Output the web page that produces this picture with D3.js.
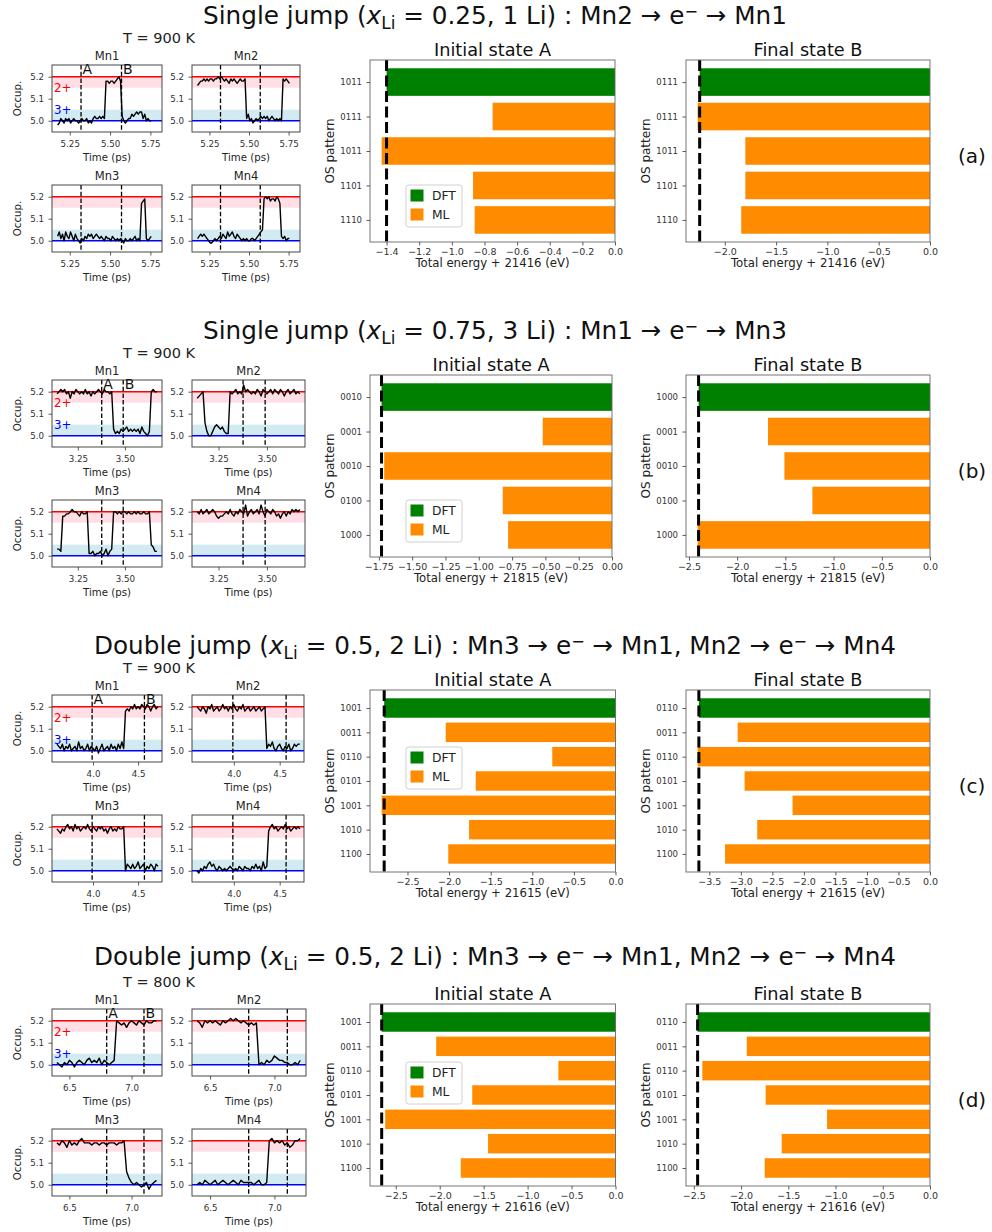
<!DOCTYPE html>
<html>
<head>
<meta charset="utf-8">
<script src="https://cdn.jsdelivr.net/npm/d3@7"></script>
<style>
  body { margin: 0; background: #fff; }
  svg text { font-family: "DejaVu Sans", sans-serif; }
</style>
</head>
<body>
<svg id="fig" width="992" height="1232"></svg>
<script>
// ---- data ----
const jumpKinds = ["Single jump", "Single jump", "Double jump", "Double jump"];
const xLiValues = ["0.25", "0.75", "0.5", "0.5"];
const liCounts = ["1 Li", "3 Li", "2 Li", "2 Li"];
const hopPaths = [
    [["Mn2", "Mn1"]],
    [["Mn1", "Mn3"]],
    [["Mn3", "Mn1"], ["Mn2", "Mn4"]],
    [["Mn3", "Mn1"], ["Mn2", "Mn4"]]
];
const temperatures = ["T = 900 K", "T = 900 K", "T = 900 K", "T = 800 K"];
const panelLabels = ["(a)", "(b)", "(c)", "(d)"];
const siteNames = ["Mn1", "Mn2", "Mn3", "Mn4"];

// time axis of the occupation traces (ps)
const timeStart = [5.175, 3.14, 3.60, 6.40];
const timeStep = [0.01, 0.01, 0.02, 0.02];
const timeDomain = [[5.14, 5.822], [3.113, 3.697], [3.545, 4.765], [6.36, 7.245]];
const timeTicks = [[5.25, 5.5, 5.75], [3.25, 3.5], [4.0, 4.5], [6.5, 7.0]];
const timeTickFormat = [".2f", ".2f", ".1f", ".1f"];
const stateATime = [5.32, 3.377, 3.99, 6.80];
const stateBTime = [5.571, 3.491, 4.57, 7.10];

const occDomain = [4.949, 5.253];
const occTicks = [5.0, 5.1, 5.2];
const level2plus = 5.2, level3plus = 5.0;
const band2plus = [5.15, 5.2], band3plus = [5.0, 5.05];

const occA_Mn1 = [4.98, 4.99, 5.01, 5.00, 4.99, 5.01, 5.00, 5.01, 4.99, 5.00,
    5.01, 5.00, 5.00, 4.99, 5.00, 5.01, 5.00, 5.00, 5.01, 4.99,
    5.00, 4.99, 5.01, 5.02, 5.01, 5.01, 5.02, 5.01, 5.02, 5.01,
    5.18, 5.18, 5.17, 5.18, 5.18, 5.17, 5.18, 5.19, 5.20, 5.18,
    5.02, 5.00, 4.99, 5.00, 5.01, 5.01, 5.03, 5.02, 5.03, 5.04,
    5.03, 5.04, 5.04, 5.01, 5.03, 5.00, 5.01, 5.00, 5.00];
const occA_Mn2 = [5.16, 5.17, 5.18, 5.18, 5.19, 5.18, 5.19, 5.18, 5.19, 5.19,
    5.18, 5.19, 5.19, 5.20, 5.19, 5.20, 5.19, 5.18, 5.19, 5.18,
    5.17, 5.19, 5.18, 5.19, 5.18, 5.17, 5.18, 5.19, 5.18, 5.18, 5.19,
    5.01, 5.03, 5.00, 5.01, 4.99, 5.00, 5.01, 5.00, 5.01, 5.02,
    5.01, 5.02, 5.01, 5.02, 5.00, 5.01, 5.02, 5.01, 5.00, 5.01,
    5.00, 5.01, 5.00,
    5.19, 5.18, 5.19, 5.18, 5.17];
const occA_Mn3 = [5.02, 5.04, 5.01, 5.03, 5.00, 5.04, 5.02, 5.01, 5.04, 5.02,
    5.00, 5.03, 5.01, 5.00, 4.99, 5.01, 5.00, 5.02, 5.01, 5.03,
    5.02, 5.03, 5.01, 5.02, 5.03, 5.02, 5.01, 5.02, 5.01, 5.00,
    5.02, 5.01, 5.01, 5.00, 5.02, 5.01, 5.00, 5.01, 5.00, 5.01,
    5.00, 4.99, 5.01, 5.00, 5.00, 5.01, 5.00, 5.01, 5.02, 5.00,
    5.01, 5.00, 5.17, 5.18, 5.19, 5.01, 5.00, 5.01, 5.02];
const occA_Mn4 = [5.01, 5.02, 5.03, 5.02, 5.03, 5.02, 5.01, 5.00, 4.99, 4.99,
    5.00, 5.01, 5.00, 5.01, 5.02, 5.01, 5.03, 5.02, 5.01, 5.04,
    5.02, 5.03, 5.04, 5.02, 5.01, 5.03, 5.02, 5.01, 5.00, 5.01,
    5.00, 5.01, 5.00, 5.00, 5.01, 5.01, 5.00, 5.01, 5.02, 5.03, 5.04, 5.05,
    5.19, 5.20, 5.19, 5.20, 5.18, 5.19, 5.19, 5.18, 5.20, 5.19, 5.17,
    5.02, 5.01, 5.02, 5.00, 5.01, 5.01];

const occB_Mn1 = [5.19, 5.20, 5.21, 5.20, 5.21, 5.19, 5.20, 5.17, 5.20, 5.19,
    5.21, 5.20, 5.19, 5.20, 5.19, 5.21, 5.19, 5.20, 5.18, 5.20,
    5.19, 5.20, 5.21, 5.20, 5.19, 5.21, 5.20, 5.20, 5.19, 5.20,
    5.03, 5.01, 5.02, 5.01, 5.03, 5.02, 5.03, 5.04, 5.02, 5.03,
    5.02, 5.03, 5.02, 5.03, 5.01, 5.04, 5.02, 5.01, 5.00, 5.02,
    5.20, 5.21, 5.20, 5.20];
const occB_Mn2 = [5.17, 5.18, 5.19, 5.20,
    5.06, 5.02, 5.00, 5.00, 5.02, 5.04, 5.05, 5.04, 5.03, 5.04, 5.02, 5.01, 5.01,
    5.20, 5.19, 5.20, 5.21, 5.19, 5.20, 5.19, 5.23, 5.20, 5.21,
    5.20, 5.19, 5.20, 5.19, 5.21, 5.20, 5.18, 5.21, 5.20, 5.19,
    5.20, 5.21, 5.19, 5.21, 5.20, 5.19, 5.21, 5.20, 5.18, 5.20,
    5.21, 5.19, 5.20, 5.21, 5.19, 5.20, 5.19];
const occB_Mn3 = [5.03, 5.03, 5.02,
    5.18, 5.18, 5.19, 5.19, 5.20, 5.21, 5.20, 5.20, 5.19, 5.18, 5.20, 5.19, 5.19, 5.20,
    5.01, 5.01, 5.02, 5.00, 5.01, 5.01, 5.02, 5.00, 5.01, 5.03, 5.00, 5.02, 5.03,
    5.20, 5.20, 5.19, 5.20, 5.19, 5.20, 5.20, 5.19, 5.20, 5.19,
    5.19, 5.20, 5.19, 5.20, 5.19, 5.19, 5.20, 5.19, 5.19, 5.20,
    5.05, 5.04, 5.02, 5.02];
const occB_Mn4 = [5.20, 5.19, 5.21, 5.19, 5.20, 5.21, 5.19, 5.20, 5.21, 5.20,
    5.18, 5.17, 5.18, 5.18, 5.19, 5.20, 5.19, 5.21, 5.19, 5.18,
    5.20, 5.19, 5.21, 5.20, 5.19, 5.23, 5.18, 5.20, 5.21, 5.19,
    5.20, 5.21, 5.19, 5.23, 5.20, 5.18, 5.21, 5.20, 5.19, 5.21,
    5.20, 5.18, 5.19, 5.17, 5.19, 5.20, 5.18, 5.20, 5.19, 5.21,
    5.20, 5.21, 5.20, 5.21];

const occC_Mn1 = [5.03, 5.02, 5.01, 5.03, 5.00, 5.02, 5.01, 5.03, 5.00, 5.01,
    5.02, 5.00, 5.04, 5.01, 5.02, 5.00, 5.01, 5.03, 5.00, 5.02,
    5.01, 5.00, 5.02, 4.99, 5.01, 5.03, 5.00, 5.01, 5.02, 5.00,
    5.03, 5.01, 5.02, 5.00, 5.03, 5.01, 5.04, 5.01,
    5.18, 5.19, 5.18, 5.20, 5.19, 5.21, 5.19, 5.20, 5.19, 5.21,
    5.20, 5.19, 5.21, 5.20, 5.18, 5.20, 5.21, 5.19, 5.20];
const occC_Mn2 = [5.20, 5.19, 5.18, 5.20, 5.19, 5.17, 5.20, 5.19, 5.21, 5.18,
    5.19, 5.20, 5.18, 5.19, 5.21, 5.19, 5.20, 5.18, 5.20, 5.19,
    5.21, 5.19, 5.18, 5.20, 5.19, 5.21, 5.18, 5.19, 5.20, 5.18,
    5.19, 5.20, 5.18, 5.19, 5.20, 5.18, 5.19, 5.20,
    5.01, 5.03, 5.02, 5.04, 5.01, 5.00, 5.02, 5.03, 5.01, 5.00,
    5.02, 5.01, 5.03, 5.00, 5.01, 5.03, 5.02, 5.03, 5.03];
const occC_Mn3 = [5.19, 5.18, 5.17, 5.19, 5.18, 5.20, 5.21, 5.19, 5.20, 5.18,
    5.21, 5.19, 5.20, 5.18, 5.19, 5.20, 5.19, 5.21, 5.19, 5.18,
    5.20, 5.19, 5.18, 5.20, 5.19, 5.20, 5.18, 5.19, 5.17, 5.19,
    5.20, 5.18, 5.19, 5.18, 5.20, 5.19, 5.19, 5.20,
    5.00, 5.03, 5.02, 5.01, 5.03, 5.01, 5.02, 5.04, 5.01, 5.02,
    5.03, 5.00, 5.02, 5.01, 5.03, 5.02, 5.00, 5.03, 5.02];
const occC_Mn4 = [5.00, 4.99, 5.01, 5.00, 5.02, 5.01, 5.03, 5.04, 5.02, 5.03,
    5.01, 5.00, 5.02, 5.01, 5.00, 5.01, 5.00, 5.01, 5.02, 5.01,
    5.00, 5.01, 5.00, 5.02, 5.01, 5.00, 5.02, 5.01, 5.01, 5.00,
    5.02, 5.01, 5.03, 5.01, 5.02, 5.00, 5.04, 5.01, 5.02,
    5.18, 5.20, 5.21, 5.19, 5.20, 5.18, 5.19, 5.20, 5.19,
    5.21, 5.19, 5.20, 5.18, 5.19, 5.20, 5.19, 5.20, 5.19];

const occD_Mn1 = [5.01, 5.00, 4.99, 5.01, 5.00, 5.02, 5.01, 4.99, 5.01, 5.02,
    5.01, 5.00, 5.02, 5.03, 5.01, 5.02, 5.01, 5.03, 5.00, 5.02,
    5.01, 5.00, 5.01, 5.02,
    5.20, 5.19, 5.18, 5.19, 5.17, 5.19, 5.20, 5.19, 5.18, 5.20,
    5.19, 5.18, 5.20, 5.19, 5.19, 5.20, 5.20];
const occD_Mn2 = [5.20, 5.19, 5.17, 5.20, 5.19, 5.20, 5.19, 5.20, 5.19, 5.18,
    5.20, 5.19, 5.20, 5.21, 5.20, 5.21, 5.20, 5.19, 5.20, 5.19,
    5.18, 5.19, 5.18, 5.19,
    5.00, 5.01, 5.00, 5.02, 5.01, 5.02, 5.04, 5.03, 5.02, 5.02,
    5.01, 5.01, 5.00, 5.00, 5.01, 5.00, 5.02];
const occD_Mn3 = [5.19, 5.18, 5.20, 5.19, 5.17, 5.20, 5.18, 5.19, 5.18, 5.20,
    5.21, 5.19, 5.19, 5.19, 5.18, 5.19, 5.19, 5.18, 5.19, 5.19,
    5.18, 5.19, 5.19, 5.19, 5.18, 5.19, 5.19, 5.20,
    5.06, 5.03, 5.01, 5.00, 5.01, 5.00, 4.99, 5.00, 5.01, 4.98,
    5.00, 5.01, 5.02];
const occD_Mn4 = [5.00, 5.01, 5.00, 5.02, 5.01, 5.00, 5.01, 5.02, 5.00, 5.01,
    5.02, 5.01, 5.00, 5.01, 5.02, 5.01, 5.00, 5.02, 5.01, 5.01,
    5.01, 5.01, 5.00, 5.01, 5.02, 5.00, 5.00, 5.01,
    5.20, 5.21, 5.19, 5.20, 5.19, 5.20, 5.18, 5.19, 5.17, 5.18,
    5.20, 5.20, 5.21];

const occupations = [
    [occA_Mn1, occA_Mn2, occA_Mn3, occA_Mn4],
    [occB_Mn1, occB_Mn2, occB_Mn3, occB_Mn4],
    [occC_Mn1, occC_Mn2, occC_Mn3, occC_Mn4],
    [occD_Mn1, occD_Mn2, occD_Mn3, occD_Mn4]
];

// OS patterns (first entry = DFT) and total energies (eV, shifted)
const patternsInit = [
    ["1011", "0111", "1011", "1101", "1110"],
    ["0010", "0001", "0010", "0100", "1000"],
    ["1001", "0011", "0110", "0101", "1001", "1010", "1100"],
    ["1001", "0011", "0110", "0101", "1001", "1010", "1100"]
];
const patternsFinal = [
    ["0111", "0111", "1011", "1101", "1110"],
    ["1000", "0001", "0010", "0100", "1000"],
    ["0110", "0011", "0110", "0101", "1001", "1010", "1100"],
    ["0110", "0011", "0110", "0101", "1001", "1010", "1100"]
];
const energyInit = [
    [-1.40, -0.75, -1.43, -0.87, -0.86],
    [-1.73, -0.52, -1.71, -0.82, -0.78],
    [-2.78, -2.04, -0.76, -1.68, -2.81, -1.76, -2.01],
    [-2.66, -2.04, -0.65, -1.63, -2.62, -1.45, -1.76]
];
const energyFinal = [
    [-2.245, -2.265, -1.80, -1.80, -1.84],
    [-2.40, -1.68, -1.51, -1.22, -2.41],
    [-3.665, -3.05, -3.685, -2.94, -2.18, -2.74, -3.25],
    [-2.46, -1.94, -2.41, -1.74, -1.09, -1.57, -1.75]
];
const energyOffsets = [21416, 21815, 21615, 21616];
const ticksInit = [
    [-1.4, -1.2, -1.0, -0.8, -0.6, -0.4, -0.2, 0.0],
    [-1.75, -1.5, -1.25, -1.0, -0.75, -0.5, -0.25, 0.0],
    [-2.5, -2.0, -1.5, -1.0, -0.5, 0.0],
    [-2.5, -2.0, -1.5, -1.0, -0.5, 0.0]
];
const ticksFinal = [
    [-2.0, -1.5, -1.0, -0.5, 0.0],
    [-2.5, -2.0, -1.5, -1.0, -0.5, 0.0],
    [-3.5, -3.0, -2.5, -2.0, -1.5, -1.0, -0.5, 0.0],
    [-2.5, -2.0, -1.5, -1.0, -0.5, 0.0]
];
const formatInit = [".1f", ".2f", ".1f", ".1f"];
const formatFinal = [".1f", ".1f", ".1f", ".1f"];
const legendNames = ["DFT", "ML"];

// ---- layout ----
const panelTop = [0, 315, 630, 944];
const titleY = [24, 339, 654, 965];
const occRightWidth = [108, 113, 112, 114];
const initRight = [615, 612, 615.5, 615.5];
const legendTop = [125, 125, 57, 58];
const COLORS = {dft: "#008000", ml: "#ff8c00", text: "#222", tick: "#333"};

const svg = d3.select("#fig");

function styleAxis(sel, size) {
    sel.attr("font-family", null).attr("font-size", null);
    sel.select(".domain").remove();
    sel.selectAll(".tick line").attr("stroke", COLORS.tick).attr("stroke-width", 0.8);
    sel.selectAll(".tick text").attr("fill", COLORS.tick).style("font-size", size + "px");
}

function drawSuptitle(p) {
    const t = svg.append("text")
        .attr("x", 495).attr("y", titleY[p])
        .attr("text-anchor", "middle")
        .style("font-size", "24.7px")
        .style("white-space", "pre")
        .attr("fill", "#111");
    t.append("tspan").text(jumpKinds[p] + " (");
    t.append("tspan").style("font-style", "italic").text("x");
    t.append("tspan").attr("dy", 5).style("font-size", "17px").text("Li");
    t.append("tspan").attr("dy", -5).text(" = " + xLiValues[p] + ", " + liCounts[p] + ") : ");
    hopPaths[p].forEach(function (hop, k) {
        t.append("tspan").text((k ? ", " : "") + hop[0] + " \u2192 e");
        t.append("tspan").attr("dy", -7.5).style("font-size", "16px").text("\u2212");
        t.append("tspan").attr("dy", 7.5).text(" \u2192 " + hop[1]);
    });
}

function drawOccupancy(p, s, box) {
    const g = svg.append("g");
    const x = d3.scaleLinear().domain(timeDomain[p]).range([box.x, box.x + box.w]);
    const y = d3.scaleLinear().domain(occDomain).range([box.y + box.h, box.y]);

    g.append("rect")
        .attr("x", box.x).attr("width", box.w)
        .attr("y", y(band2plus[1])).attr("height", y(band2plus[0]) - y(band2plus[1]))
        .attr("fill", "#ffc0cb").attr("fill-opacity", 0.5);
    g.append("rect")
        .attr("x", box.x).attr("width", box.w)
        .attr("y", y(band3plus[1])).attr("height", y(band3plus[0]) - y(band3plus[1]))
        .attr("fill", "#add8e6").attr("fill-opacity", 0.55);

    g.append("line")
        .attr("x1", box.x).attr("x2", box.x + box.w)
        .attr("y1", y(level2plus)).attr("y2", y(level2plus))
        .attr("stroke", "red").attr("stroke-width", 1.4);
    g.append("line")
        .attr("x1", box.x).attr("x2", box.x + box.w)
        .attr("y1", y(level3plus)).attr("y2", y(level3plus))
        .attr("stroke", "blue").attr("stroke-width", 1.4);

    [stateATime[p], stateBTime[p]].forEach(function (t) {
        g.append("line")
            .attr("x1", x(t)).attr("x2", x(t))
            .attr("y1", box.y).attr("y2", box.y + box.h)
            .attr("stroke", "#000").attr("stroke-width", 1.3)
            .attr("stroke-dasharray", "4.5,2.2");
    });

    const line = d3.line()
        .x(function (d, i) { return x(timeStart[p] + i * timeStep[p]); })
        .y(function (d) { return y(d); });
    g.append("path")
        .datum(occupations[p][s])
        .attr("d", line)
        .attr("fill", "none")
        .attr("stroke", "#000")
        .attr("stroke-width", 1.4)
        .attr("stroke-linejoin", "round");

    g.append("rect")
        .attr("x", box.x).attr("y", box.y).attr("width", box.w).attr("height", box.h)
        .attr("fill", "none").attr("stroke", "#333").attr("stroke-width", 0.9);

    g.append("g")
        .attr("transform", `translate(0, ${box.y + box.h})`)
        .call(d3.axisBottom(x).tickValues(timeTicks[p])
            .tickFormat(d3.format(timeTickFormat[p])).tickSize(3.5).tickPadding(5))
        .call(styleAxis, 8.7);
    g.append("g")
        .attr("transform", `translate(${box.x}, 0)`)
        .call(d3.axisLeft(y).tickValues(occTicks)
            .tickFormat(d3.format(".1f")).tickSize(3.5).tickPadding(4.5))
        .call(styleAxis, 8.7);

    g.append("text")
        .attr("x", box.x + box.w / 2).attr("y", box.y - 5)
        .attr("text-anchor", "middle")
        .style("font-size", "11.5px").attr("fill", COLORS.text)
        .text(siteNames[s]);
    g.append("text")
        .attr("x", box.x + box.w / 2).attr("y", box.y + box.h + 28.5)
        .attr("text-anchor", "middle")
        .style("font-size", "10.2px").attr("fill", COLORS.text)
        .text("Time (ps)");
    if (s % 2 === 0) {
        g.append("text")
            .attr("transform", `translate(${box.x - 31}, ${box.y + box.h / 2}) rotate(-90)`)
            .attr("text-anchor", "middle")
            .style("font-size", "10.2px").attr("fill", COLORS.text)
            .text("Occup.");
    }
    if (s === 0) {
        g.append("text")
            .attr("x", x(stateATime[p]) + 1.5).attr("y", y(level2plus) - 2.5)
            .style("font-size", "14px").attr("fill", "#111").text("A");
        g.append("text")
            .attr("x", x(stateBTime[p]) + 1.5).attr("y", y(level2plus) - 2.5)
            .style("font-size", "14px").attr("fill", "#111").text("B");
        g.append("text")
            .attr("x", box.x + 2).attr("y", y(band2plus[0]))
            .attr("dy", "0.35em")
            .style("font-size", "11.8px").attr("fill", "red").text("2+");
        g.append("text")
            .attr("x", box.x + 2).attr("y", y(band3plus[1]))
            .attr("dy", "0.35em")
            .style("font-size", "11.8px").attr("fill", "blue").text("3+");
    }
}

function drawEnergy(p, isFinal, box) {
    const g = svg.append("g");
    const patterns = isFinal ? patternsFinal[p] : patternsInit[p];
    const energies = isFinal ? energyFinal[p] : energyInit[p];
    const n = patterns.length;
    const x = d3.scaleLinear().domain([d3.min(energies) * 1.05, 0]).range([box.x, box.x + box.w]);
    const pad = 0.05 * (n - 0.2);
    const y = d3.scaleLinear().domain([-0.4 - pad, n - 0.6 + pad]).range([box.y, box.y + box.h]);
    const bh = y(0.8) - y(0);

    g.selectAll("rect.bar")
        .data(energies)
        .join("rect")
        .attr("class", "bar")
        .attr("x", function (d) { return x(d); })
        .attr("width", function (d) { return x(0) - x(d); })
        .attr("y", function (d, i) { return y(i) - bh / 2; })
        .attr("height", bh)
        .attr("fill", function (d, i) { return i === 0 ? COLORS.dft : COLORS.ml; });

    g.append("line")
        .attr("x1", x(energies[0])).attr("x2", x(energies[0]))
        .attr("y1", box.y).attr("y2", box.y + box.h)
        .attr("stroke", "#000").attr("stroke-width", 3)
        .attr("stroke-dasharray", "11,4.5");

    g.append("rect")
        .attr("x", box.x).attr("y", box.y).attr("width", box.w).attr("height", box.h)
        .attr("fill", "none").attr("stroke", "#666").attr("stroke-width", 0.9);

    const ticks = isFinal ? ticksFinal[p] : ticksInit[p];
    const fmt = isFinal ? formatFinal[p] : formatInit[p];
    g.append("g")
        .attr("transform", `translate(0, ${box.y + box.h})`)
        .call(d3.axisBottom(x).tickValues(ticks).tickFormat(d3.format(fmt))
            .tickSize(3.5).tickPadding(3))
        .call(styleAxis, 9.5);
    g.append("g")
        .attr("transform", `translate(${box.x}, 0)`)
        .call(d3.axisLeft(y).tickValues(d3.range(n))
            .tickFormat(function (i) { return patterns[i]; })
            .tickSize(3.5).tickPadding(4.5))
        .call(styleAxis, 8.5);

    g.append("text")
        .attr("x", box.x + box.w / 2).attr("y", box.y - 4.5)
        .attr("text-anchor", "middle")
        .style("font-size", "17.7px").attr("fill", "#111")
        .text(isFinal ? "Final state B" : "Initial state A");
    g.append("text")
        .attr("x", box.x + box.w / 2).attr("y", box.y + box.h + 24.5)
        .attr("text-anchor", "middle")
        .style("font-size", "11.7px").attr("fill", COLORS.text)
        .text(`Total energy + ${energyOffsets[p]} (eV)`);
    g.append("text")
        .attr("transform", `translate(${box.x - 36.5}, ${box.y + box.h / 2}) rotate(-90)`)
        .attr("text-anchor", "middle")
        .style("font-size", "12px").attr("fill", COLORS.text)
        .text("OS pattern");

    if (!isFinal) {
        const lx = box.x + 36, ly = box.y + legendTop[p];
        const lg = g.append("g");
        lg.append("rect")
            .attr("x", lx).attr("y", ly).attr("width", 56).attr("height", 42)
            .attr("rx", 2.5)
            .attr("fill", "#fff").attr("fill-opacity", 0.85)
            .attr("stroke", "#d0d0d0").attr("stroke-width", 1);
        legendNames.forEach(function (name, k) {
            lg.append("rect")
                .attr("x", lx + 4.5).attr("y", ly + 4.5 + k * 19)
                .attr("width", 13).attr("height", 12)
                .attr("fill", k === 0 ? COLORS.dft : COLORS.ml);
            lg.append("text")
                .attr("x", lx + 26).attr("y", ly + 15 + k * 19)
                .style("font-size", "12.3px").attr("fill", COLORS.text)
                .text(name);
        });
    }
}

for (let p = 0; p < 4; p++) {
    const top = panelTop[p];
    drawSuptitle(p);

    svg.append("text")
        .attr("x", 159).attr("y", top + 42.5)
        .attr("text-anchor", "middle")
        .style("font-size", "14.5px").attr("fill", COLORS.text)
        .text(temperatures[p]);

    const cols = [{x: 52, w: 110}, {x: 192, w: occRightWidth[p]}];
    const rows = [top + 65, top + 185];
    for (let s = 0; s < 4; s++) {
        const c = cols[s % 2];
        drawOccupancy(p, s, {x: c.x, y: rows[Math.floor(s / 2)], w: c.w, h: 67});
    }

    drawEnergy(p, false, {x: 370, y: top + 60, w: initRight[p] - 370, h: 182});
    drawEnergy(p, true, {x: 686, y: top + 60, w: 244, h: 182});

    svg.append("text")
        .attr("x", 972).attr("y", top + 163)
        .attr("text-anchor", "middle")
        .style("font-size", "20px").attr("fill", "#111")
        .text(panelLabels[p]);
}
</script>
</body>
</html>
